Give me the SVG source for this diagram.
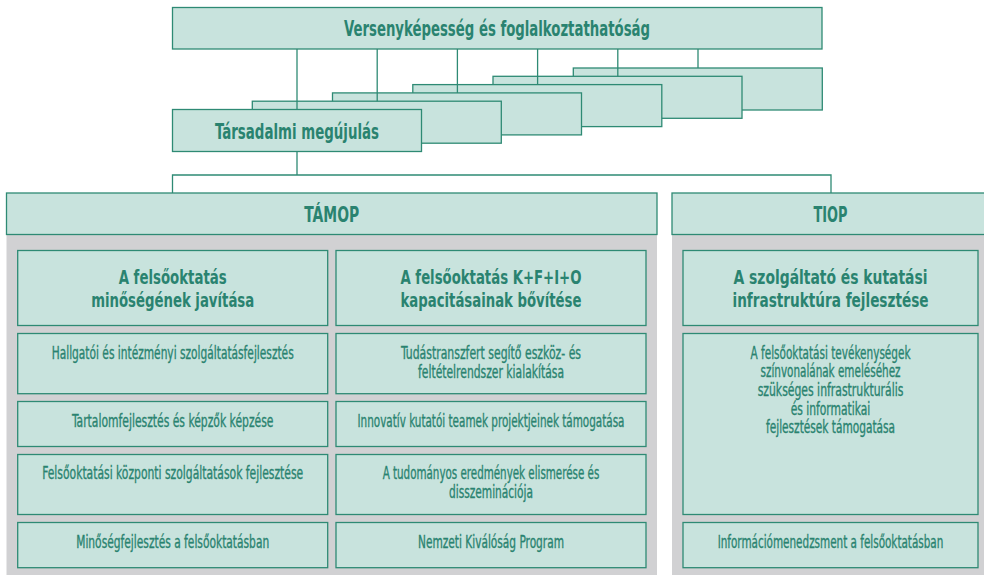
<svg xmlns="http://www.w3.org/2000/svg" width="984" height="575" viewBox="0 0 984 575">
<style>
.box{fill:#c8e3dd;stroke:#2e8a74;stroke-width:1.3}
.panel{fill:#d1d1d3}
.ln{stroke:#2e8a74;stroke-width:1.3;fill:none}
text{font-family:"DejaVu Sans Condensed","DejaVu Sans","Liberation Sans",sans-serif;fill:#2a8370;text-anchor:middle}
.h{font-weight:bold;font-size:20.5px}
.m{font-weight:bold;font-size:19px}
.s{font-size:17px;stroke:#2a8370;stroke-width:0.35}
</style>
<rect width="984" height="575" fill="#ffffff"/>
<g id="panels">
<rect class="panel" x="6.5" y="234" width="650.5" height="341"/>
<rect class="panel" x="672" y="234" width="312" height="341"/>
</g>
<g id="node-stack">
<rect class="box" x="573.3" y="68" width="249" height="42"/>
<rect class="box" x="493" y="76.3" width="249" height="42"/>
<rect class="box" x="412.8" y="84.6" width="249" height="42"/>
<rect class="box" x="332.5" y="92.9" width="249" height="42"/>
<rect class="box" x="252.3" y="101.2" width="249" height="42"/>
</g>
<g id="node-tarsadalmi">
<rect class="box" x="172.5" y="109.5" width="249" height="42"/>
<text class="h" x="297" y="139" textLength="164" lengthAdjust="spacingAndGlyphs">Társadalmi megújulás</text>
</g>
<g id="node-top">
<rect class="box" x="172.5" y="7.5" width="649.5" height="41.5"/>
<text class="h" x="497" y="36" textLength="306" lengthAdjust="spacingAndGlyphs">Versenyképesség és foglalkoztathatóság</text>
</g>
<g id="connectors">
<line class="ln" x1="297" y1="49" x2="297" y2="109.5"/>
<line class="ln" x1="377.2" y1="49" x2="377.2" y2="101.2"/>
<line class="ln" x1="457.4" y1="49" x2="457.4" y2="92.9"/>
<line class="ln" x1="537.6" y1="49" x2="537.6" y2="84.6"/>
<line class="ln" x1="617.8" y1="49" x2="617.8" y2="76.3"/>
<line class="ln" x1="698" y1="49" x2="698" y2="68"/>
<path class="ln" d="M297 151.5 V175 M172.5 193 V175 H831 V193"/>
</g>
<g id="node-tamop">
<rect class="box" x="6.5" y="193" width="650.5" height="41.5"/>
<text class="h" x="331.7" y="221.7" textLength="55" lengthAdjust="spacingAndGlyphs">TÁMOP</text>
</g>
<g id="node-tiop">
<rect class="box" x="672" y="193" width="320" height="41.5"/>
<text class="h" x="830.5" y="221.7" textLength="34" lengthAdjust="spacingAndGlyphs">TIOP</text>
</g>
<g id="node-h1">
<rect class="box" x="17.7" y="250.5" width="310" height="75"/>
<text class="m" x="172.7" y="284" textLength="108" lengthAdjust="spacingAndGlyphs">A felsőoktatás</text>
<text class="m" x="172.7" y="306.7" textLength="163" lengthAdjust="spacingAndGlyphs">minőségének javítása</text>
</g>
<g id="node-h2">
<rect class="box" x="336" y="250.5" width="310" height="75"/>
<text class="m" x="491" y="284" textLength="181" lengthAdjust="spacingAndGlyphs">A felsőoktatás K+F+I+O</text>
<text class="m" x="491" y="306.7" textLength="181" lengthAdjust="spacingAndGlyphs">kapacitásainak bővítése</text>
</g>
<g id="node-h3">
<rect class="box" x="683" y="250.5" width="295" height="75"/>
<text class="m" x="830.5" y="284" textLength="194" lengthAdjust="spacingAndGlyphs">A szolgáltató és kutatási</text>
<text class="m" x="830.5" y="306.7" textLength="196" lengthAdjust="spacingAndGlyphs">infrastruktúra fejlesztése</text>
</g>
<g id="node-l1">
<rect class="box" x="17.7" y="333.5" width="310" height="60.2"/>
<text class="s" x="172.7" y="358.7" textLength="242" lengthAdjust="spacingAndGlyphs">Hallgatói és intézményi szolgáltatásfejlesztés</text>
</g>
<g id="node-l2">
<rect class="box" x="17.7" y="401.5" width="310" height="45"/>
<text class="s" x="172.7" y="426.7" textLength="201.5" lengthAdjust="spacingAndGlyphs">Tartalomfejlesztés és képzők képzése</text>
</g>
<g id="node-l3">
<rect class="box" x="17.7" y="454.5" width="310" height="60"/>
<text class="s" x="172.7" y="479.3" textLength="261" lengthAdjust="spacingAndGlyphs">Felsőoktatási központi szolgáltatások fejlesztése</text>
</g>
<g id="node-l4">
<rect class="box" x="17.7" y="522.5" width="310" height="45.2"/>
<text class="s" x="172.7" y="547.6" textLength="193" lengthAdjust="spacingAndGlyphs">Minőségfejlesztés a felsőoktatásban</text>
</g>
<g id="node-r1">
<rect class="box" x="336" y="333.5" width="310" height="60.2"/>
<text class="s" x="491" y="358.7" textLength="180" lengthAdjust="spacingAndGlyphs">Tudástranszfert segítő eszköz- és</text>
<text class="s" x="491" y="377.5" textLength="146" lengthAdjust="spacingAndGlyphs">feltételrendszer kialakítása</text>
</g>
<g id="node-r2">
<rect class="box" x="336" y="401.5" width="310" height="45"/>
<text class="s" x="491" y="426.7" textLength="267" lengthAdjust="spacingAndGlyphs">Innovatív kutatói teamek projektjeinek támogatása</text>
</g>
<g id="node-r3">
<rect class="box" x="336" y="454.5" width="310" height="60"/>
<text class="s" x="491" y="479.3" textLength="216.6" lengthAdjust="spacingAndGlyphs">A tudományos eredmények elismerése és</text>
<text class="s" x="491" y="498.3" textLength="84" lengthAdjust="spacingAndGlyphs">disszeminációja</text>
</g>
<g id="node-r4">
<rect class="box" x="336" y="522.5" width="310" height="45.2"/>
<text class="s" x="491" y="547.6" textLength="146" lengthAdjust="spacingAndGlyphs">Nemzeti Kiválóság Program</text>
</g>
<g id="node-t1">
<rect class="box" x="683" y="333.5" width="295" height="181"/>
<text class="s" x="830.5" y="358.5" textLength="160" lengthAdjust="spacingAndGlyphs">A felsőoktatási tevékenységek</text>
<text class="s" x="830.5" y="377.3" textLength="140" lengthAdjust="spacingAndGlyphs">színvonalának emeléséhez</text>
<text class="s" x="830.5" y="396" textLength="145.7" lengthAdjust="spacingAndGlyphs">szükséges infrastrukturális</text>
<text class="s" x="830.5" y="414.7" textLength="79.7" lengthAdjust="spacingAndGlyphs">és informatikai</text>
<text class="s" x="830.5" y="433.3" textLength="129" lengthAdjust="spacingAndGlyphs">fejlesztések támogatása</text>
</g>
<g id="node-t2">
<rect class="box" x="683" y="522.5" width="295" height="45.2"/>
<text class="s" transform="translate(830.5,548.3) scale(0.7,1)" x="0" y="0" textLength="322.4" lengthAdjust="spacingAndGlyphs">Információmenedzsment a felsőoktatásban</text>
</g>
</svg>
